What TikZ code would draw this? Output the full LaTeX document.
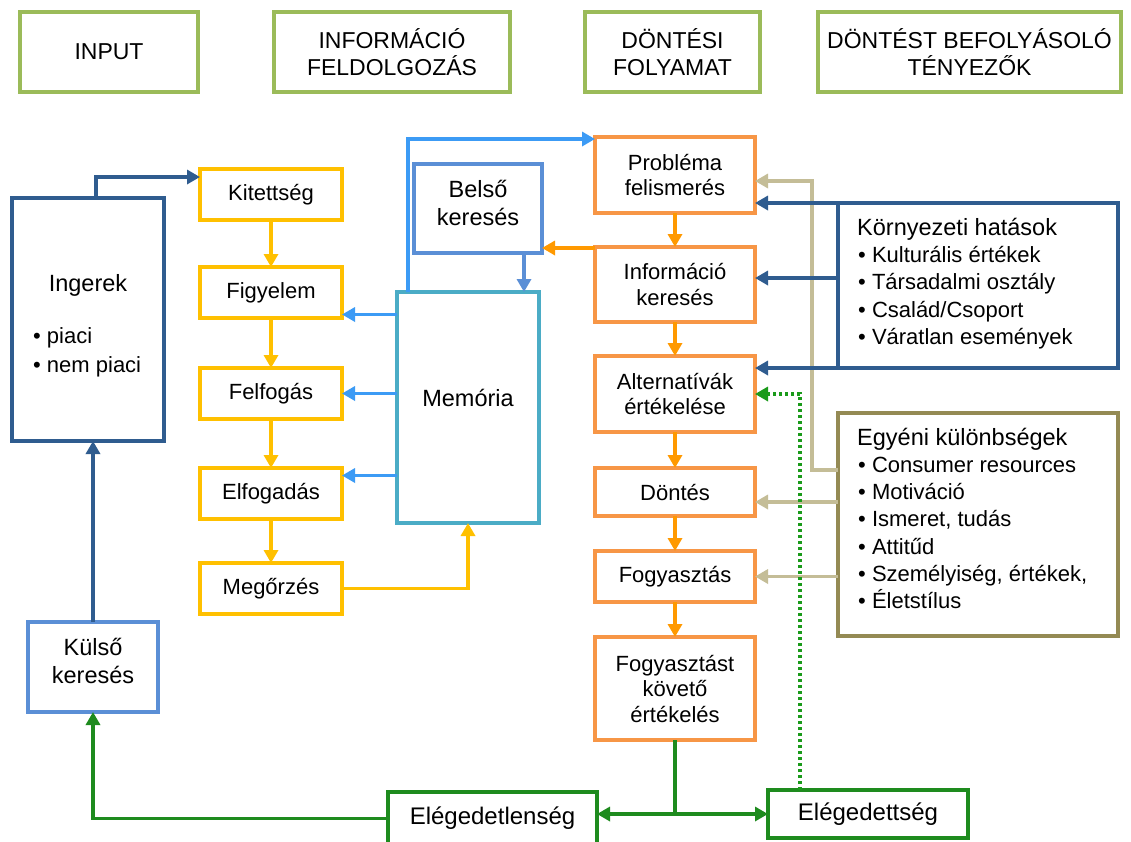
\documentclass[tikz,border=0pt]{standalone}
\usepackage{fontspec}
\setmainfont{Liberation Sans}
\usetikzlibrary{arrows.meta,calc}

\definecolor{hdrgreen}{HTML}{9BBB59}
\definecolor{navy}{HTML}{2F5C8F}
\definecolor{midblue}{HTML}{5B8FD6}
\definecolor{skyblue}{HTML}{3C9BF5}
\definecolor{memteal}{HTML}{4BACC6}
\definecolor{amber}{HTML}{FFC000}
\definecolor{peach}{HTML}{F79646}
\definecolor{tangerine}{HTML}{FF9900}
\definecolor{khaki}{HTML}{C4BD97}
\definecolor{boxolive}{HTML}{948A54}
\definecolor{leaf}{HTML}{1E8B1E}
\definecolor{dotgreen}{HTML}{1A9A1A}

\tikzset{
  box/.style={draw, rectangle, line width=3.5pt, inner sep=0pt, outer sep=0pt,
    align=center, text=black},
  hdr/.style={box, draw=hdrgreen, minimum height=80pt, font=\fontsize{23}{27}\selectfont},
  ybox/.style={box, draw=amber, minimum width=142pt, minimum height=51pt,
    font=\fontsize{22}{25.5}\selectfont},
  obox/.style={box, draw=peach, minimum width=160pt, font=\fontsize{22}{25.5}\selectfont},
  bbox/.style={box, draw=midblue},
  gbox/.style={box, draw=leaf, font=\fontsize{24}{28}\selectfont},
  big/.style={font=\fontsize{23.5}{28}\selectfont, inner sep=0pt, align=center},
  item/.style={font=\fontsize{22}{26}\selectfont, anchor=base west, inner sep=0pt},
  head/.style={font=\fontsize{23.5}{28}\selectfont, anchor=base west, inner sep=0pt},
  link/.style={line width=3.4pt, -{Triangle[length=13pt,width=14pt]}},
  plain/.style={line width=3.4pt},
}

\begin{document}
\begin{tikzpicture}[x=1pt,y=-1pt]
\useasboundingbox (0,0) rectangle (1131,841);
\clip (0,0) rectangle (1131,841);
\fill[white] (0,0) rectangle (1131,841);

% column headers
\node[hdr, minimum width=178pt] (hInput) at (109,52) {INPUT};
\node[hdr, minimum width=236pt] (hInfo) at (392,52) {INFORMÁCIÓ\\FELDOLGOZÁS};
\node[hdr, minimum width=175pt] (hDont) at (672.5,52) {DÖNTÉSI\\FOLYAMAT};
\node[hdr, minimum width=303pt] (hBef) at (969.5,52) {DÖNTÉST BEFOLYÁSOLÓ\\TÉNYEZŐK};

% input column
\node[box, draw=navy, minimum width=152pt, minimum height=243pt] (ing) at (88,319.5) {};
\node[big, anchor=base] (ingT) at (88,291) {Ingerek};
\node[item] (ingA) at (33,343) {\textbullet\ piaci};
\node[item] (ingB) at (33,372) {\textbullet\ nem piaci};

\node[bbox, minimum width=130pt, minimum height=90pt] (kulso) at (93,667) {};
\node[big] (kulsoT) at (93,660.5) {Külső\\keresés};

% information processing column
\node[ybox] (kit) at (271,194.5) {Kitettség};
\node[ybox] (fig) at (271,292.5) {Figyelem};
\node[ybox] (fel) at (271,393.5) {Felfogás};
\node[ybox] (elf) at (271,493.5) {Elfogadás};
\node[ybox] (meg) at (271,588.5) {Megőrzés};

\node[box, draw=memteal, minimum width=142pt, minimum height=231pt] (mem) at (468,407.5) {};
\node[big] (memT) at (468,398) {Memória};

\node[bbox, minimum width=128pt, minimum height=89pt] (bel) at (478,208.5) {};
\node[big] (belT) at (478,203) {Belső\\keresés};

% decision process column
\node[obox, minimum height=76pt] (prob) at (675,175) {Probléma\\felismerés};
\node[obox, minimum height=75pt] (info) at (675,284.5) {Információ\\keresés};
\node[obox, minimum height=76pt] (alt) at (675,394) {Alternatívák\\értékelése};
\node[obox, minimum height=48pt] (dont) at (675,492) {Döntés};
\node[obox, minimum height=51pt] (fogy) at (675,576.5) {Fogyasztás};
\node[obox, minimum height=103pt] (fkov) at (675,688.5) {Fogyasztást\\követő\\értékelés};

\node[gbox, minimum width=209pt, minimum height=53pt] (elgtlen) at (492.5,818.5) {Elégedetlenség};
\node[gbox, minimum width=200pt, minimum height=48pt] (elg) at (868,814) {Elégedettség};

% influencing factors
\node[box, draw=navy, minimum width=280pt, minimum height=165pt] (kh) at (978,285.5) {};
\node[head] (khT) at (857,235) {Környezeti hatások};
\foreach \t [count=\i] in {Kulturális értékek, Társadalmi osztály, Család/Csoport, Váratlan események}
  \node[item] (khI\i) at (858,{235+27.4*\i}) {\textbullet\ \t};

\node[box, draw=boxolive, minimum width=280pt, minimum height=223pt] (eg) at (978,524.5) {};
\node[head] (egT) at (857,445) {Egyéni különbségek};
\foreach \t [count=\i] in {Consumer resources, Motiváció, {Ismeret, tudás}, Attitűd, {Személyiség, értékek,}, Életstílus}
  \node[item] (egI\i) at (858,{445+27.3*\i}) {\textbullet\ \t};

% input links
\coordinate (ingOut) at ([xshift=8pt]ing.north);
\coordinate (kitIn) at ([yshift=17.5pt]kit.west);
\draw[link, navy] (ingOut) |- (kitIn);
\draw[link, navy] (kulso.north) -- (kulso.north |- ing.south);

% processing chain
\foreach \a/\b in {kit/fig, fig/fel, fel/elf, elf/meg}
  \draw[link, amber] (\a.south) -- (\b.north);
\draw[link, amber] (meg.east) -| (mem.south);

\coordinate (figIn) at ([yshift=-22pt]fig.east);
\draw[link, skyblue] (figIn -| mem.west) -- (figIn);
\draw[link, skyblue] (fel.east -| mem.west) -- (fel.east);
\coordinate (elfIn) at ([yshift=18pt]elf.east);
\draw[link, skyblue] (elfIn -| mem.west) -- (elfIn);

\coordinate (memTop) at ([xshift=11pt]mem.north west);
\coordinate (probIn) at ([yshift=-2pt]prob.north west);
\draw[link, skyblue] (memTop) |- (probIn);

\coordinate (belOut) at ([xshift=-18pt]bel.south east);
\draw[link, midblue] (belOut) -- (belOut |- mem.north);

\coordinate (infoOut) at ([yshift=-1pt]info.north west);
\draw[link, tangerine] (infoOut) -- (infoOut -| bel.east);

% decision chain
\foreach \a/\b in {prob/info, info/alt, alt/dont, dont/fogy, fogy/fkov}
  \draw[link, tangerine] (\a.south) -- (\b.north);

% individual differences
\coordinate (egOut) at ([yshift=-57pt]eg.north west);
\coordinate (probTan) at ([yshift=-6pt]prob.east);
\draw[link, khaki] (egOut) -- ++(-26,0) |- (probTan);
\coordinate (dontIn) at ([yshift=-10pt]dont.east);
\draw[link, khaki] (dontIn -| eg.west) -- (dontIn);
\draw[link, khaki] (fogy.east -| eg.west) -- (fogy.east);

% environmental influences
\draw[link, navy] (kh.north west) -- (kh.north west -| prob.east);
\coordinate (infoIn) at ([yshift=6.5pt]info.east);
\draw[link, navy] (infoIn -| kh.west) -- (infoIn);
\draw[link, navy] (kh.south west) -- (kh.south west -| alt.east);

% outcomes
\coordinate (split) at (fkov.south |- elg.west);
\draw[plain, leaf] (fkov.south) -- (split);
\draw[link, leaf] (split) -- (split -| elgtlen.east);
\draw[link, leaf] (split) -- (elg.west);
\draw[link, leaf] (elgtlen.west) -| (kulso.south);

\coordinate (dotFoot) at ([xshift=32pt]elg.north west);
\draw[link, dotgreen, dash pattern=on 3pt off 3pt] (dotFoot) |- (alt.east);
\end{tikzpicture}
\end{document}
